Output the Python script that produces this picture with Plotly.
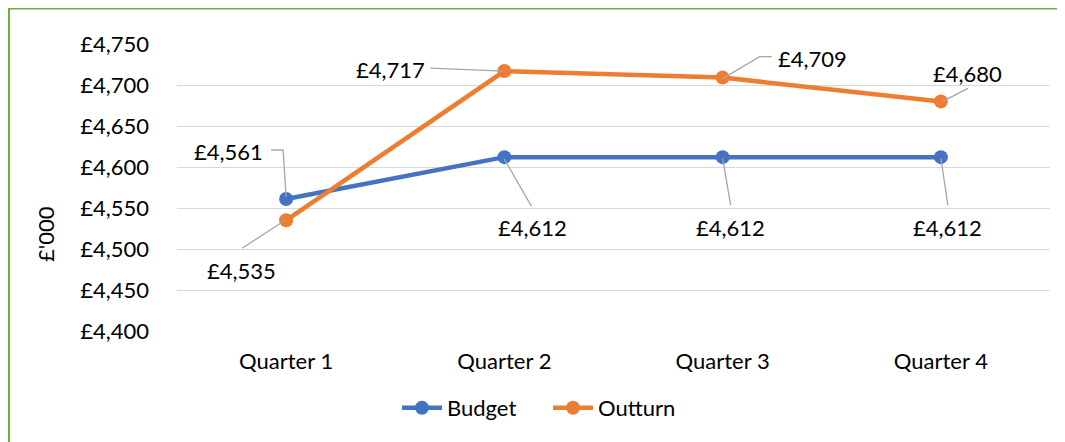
import plotly.graph_objects as go

categories = ["Quarter 1", "Quarter 2", "Quarter 3", "Quarter 4"]
budget = [4561, 4612, 4612, 4612]
outturn = [4535, 4717, 4709, 4680]
y_ticks = [4400, 4450, 4500, 4550, 4600, 4650, 4700, 4750]
y_ticktext = ["£{:,}".format(v) for v in y_ticks]

W, H = 1065, 442
L, R, T, B = 169, 23, 36, 119
FONT = "Lato"
FS = 22
BLUE = "#4472C4"
ORANGE = "#ED7D31"
LEAD = "#A6A6A6"

# label offsets (screen px, y down) and leader paths (screen px relative to point)
budget_lbl = [(-58, -47), (28, 70), (8, 70), (7, 70)]
outturn_lbl = [(-45, 50), (-114, -2), (90, -19), (27, -28)]
budget_lead = [[(0, -2), (-3, -49), (-15, -49)], [(0, 2), (27, 49)], [(0, 1), (8, 48)], [(0, 1), (7, 48)]]
outturn_lead = [[(-1, 0), (-44, 28)], [(-1, 0), (-74, -3)], [(0, 1), (37, -21), (49, -21)], [(2, 0), (27, -13)]]

idx = list(range(len(categories)))

fig = go.Figure()
fig.add_trace(go.Scatter(x=idx, y=budget, name="Budget", mode="lines+markers",
                         line=dict(color=BLUE, width=4.5), marker=dict(size=14, color=BLUE)))
fig.add_trace(go.Scatter(x=idx, y=outturn, name="Outturn", mode="lines+markers",
                         line=dict(color=ORANGE, width=4.5), marker=dict(size=14, color=ORANGE)))

annotations = []
shapes = []
for series, lbls, leads in ((budget, budget_lbl, budget_lead), (outturn, outturn_lbl, outturn_lead)):
    for i, v in enumerate(series):
        dx, dy = lbls[i]
        annotations.append(dict(x=i, y=v, xref="x", yref="y", text="£{:,}".format(v),
                                showarrow=False, xshift=dx, yshift=-dy,
                                font=dict(family=FONT, size=FS, color="#000000")))
        pts = leads[i]
        path = "M " + " L ".join("{},{}".format(px, -py) for px, py in pts)
        shapes.append(dict(type="path", xref="x", yref="y", xsizemode="pixel", ysizemode="pixel",
                           xanchor=i, yanchor=v, path=path,
                           line=dict(color=LEAD, width=1.3), layer="above"))

# y-axis title
pw = W - L - R
ph = H - T - B
annotations.append(dict(x=(37 - L) / pw, y=1 - (226 - T) / ph, xref="paper", yref="paper",
                        xanchor="center", yanchor="middle",
                        text="£'000", textangle=-90, showarrow=False,
                        font=dict(family=FONT, size=FS, color="#000000")))

# green chart border (left and top visible)
shapes.append(dict(type="line", xref="paper", yref="paper",
                   x0=(1 - L) / pw, x1=(1 - L) / pw, y0=1 - (0.5 - T) / ph, y1=1 - (460 - T) / ph,
                   line=dict(color="#70AD47", width=2.2)))
shapes.append(dict(type="line", xref="paper", yref="paper",
                   x0=(0 - L) / pw, x1=(1080 - L) / pw, y0=1 - (0.5 - T) / ph, y1=1 - (0.5 - T) / ph,
                   line=dict(color="#70AD47", width=2.2)))

fig.update_layout(
    width=W, height=H,
    margin=dict(l=L, r=R, t=T, b=B),
    paper_bgcolor="white", plot_bgcolor="white",
    font=dict(family=FONT, size=FS, color="#000000"),
    xaxis=dict(range=[-0.5, len(categories) - 0.5], tickvals=idx, ticktext=categories,
               showgrid=False, zeroline=False, showline=False, ticks="",
               ticklabelstandoff=15, tickfont=dict(family=FONT, size=FS)),
    yaxis=dict(range=[4400, 4750], tickvals=y_ticks, ticktext=y_ticktext,
               showgrid=True, gridcolor="#D9D9D9", gridwidth=1.3, zeroline=False,
               showline=False, ticks="", ticklabelstandoff=27, tickfont=dict(family=FONT, size=FS)),
    legend=dict(orientation="h", xref="container", yref="container", x=540 / W, y=1 - 400 / H,
                xanchor="center", yanchor="middle", font=dict(family=FONT, size=FS),
                itemwidth=40, tracegroupgap=0, entrywidth=96, entrywidthmode="pixels"),
    showlegend=True,
    annotations=annotations,
    shapes=shapes,
)

fig.write_html("out.html")
